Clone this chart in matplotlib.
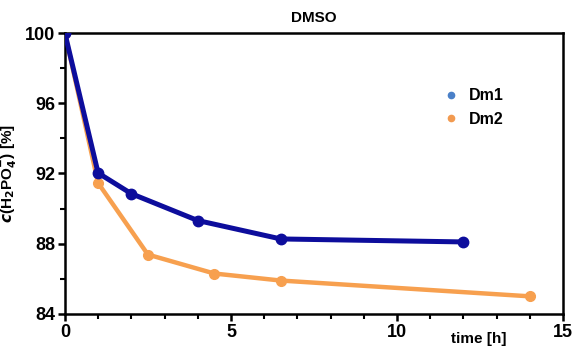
import matplotlib
matplotlib.use("Agg")
import matplotlib.pyplot as plt
from matplotlib.lines import Line2D
from matplotlib.ticker import MultipleLocator

plt.rcParams['font.family'] = ['Liberation Sans', 'DejaVu Sans']
plt.rcParams['font.weight'] = 'bold'

# data
t_dm1 = [0, 1, 2, 4, 6.5, 12]
c_dm1 = [100, 92.03, 90.85, 89.32, 88.27, 88.1]
t_dm2 = [0, 1, 2.5, 4.5, 6.5, 14]
c_dm2 = [100, 91.46, 87.38, 86.3, 85.9, 85.0]

blue = "#0d0d9c"
orange = "#f7a04f"

fig = plt.figure(figsize=(5.74, 3.48), dpi=100)
ax = fig.add_axes([0.113, 0.098, 0.868, 0.807])

ax.plot(t_dm2, c_dm2, color=orange, lw=3.2, marker="o", ms=7, zorder=2)
ax.plot(t_dm1, c_dm1, color=blue, lw=3.6, marker="o", ms=7.5, zorder=3)

ax.set_xlim(0, 15)
ax.set_ylim(84, 100)
ax.set_xticks([0, 5, 10, 15])
ax.set_yticks([84, 88, 92, 96, 100])
ax.xaxis.set_minor_locator(MultipleLocator(1))
ax.yaxis.set_minor_locator(MultipleLocator(2))
for s in ax.spines.values():
    s.set_linewidth(1.8)
ax.tick_params(which="major", length=5, width=1.8, labelsize=13, pad=2)
ax.tick_params(which="minor", length=3.5, width=1.5)
for lab in ax.get_xticklabels() + ax.get_yticklabels():
    lab.set_fontweight("bold")

ax.set_ylabel(r"$\mathit{c}$(H$_\mathbf{2}$PO$_\mathbf{4}^{\mathbf{-}}$) [%]", fontsize=11,
              fontweight="bold", labelpad=4)
ax.text(0.83, -0.065, "time [h]", transform=ax.transAxes, fontsize=11,
        fontweight="bold", ha="center", va="top")
ax.set_title("DMSO", fontsize=11, fontweight="bold", pad=8)

handles = [Line2D([], [], ls="", marker="o", ms=4.5, color="#4a80c8"),
           Line2D([], [], ls="", marker="o", ms=4.5, color="#f29a50")]
ax.legend(handles, ["Dm1", "Dm2"], loc="upper left", bbox_to_anchor=(0.73, 0.855),
          frameon=False, handlelength=1.0, handletextpad=0.6,
          labelspacing=0.55, prop={"weight": "bold", "size": 11.5})

fig.savefig("out.png", dpi=100)
